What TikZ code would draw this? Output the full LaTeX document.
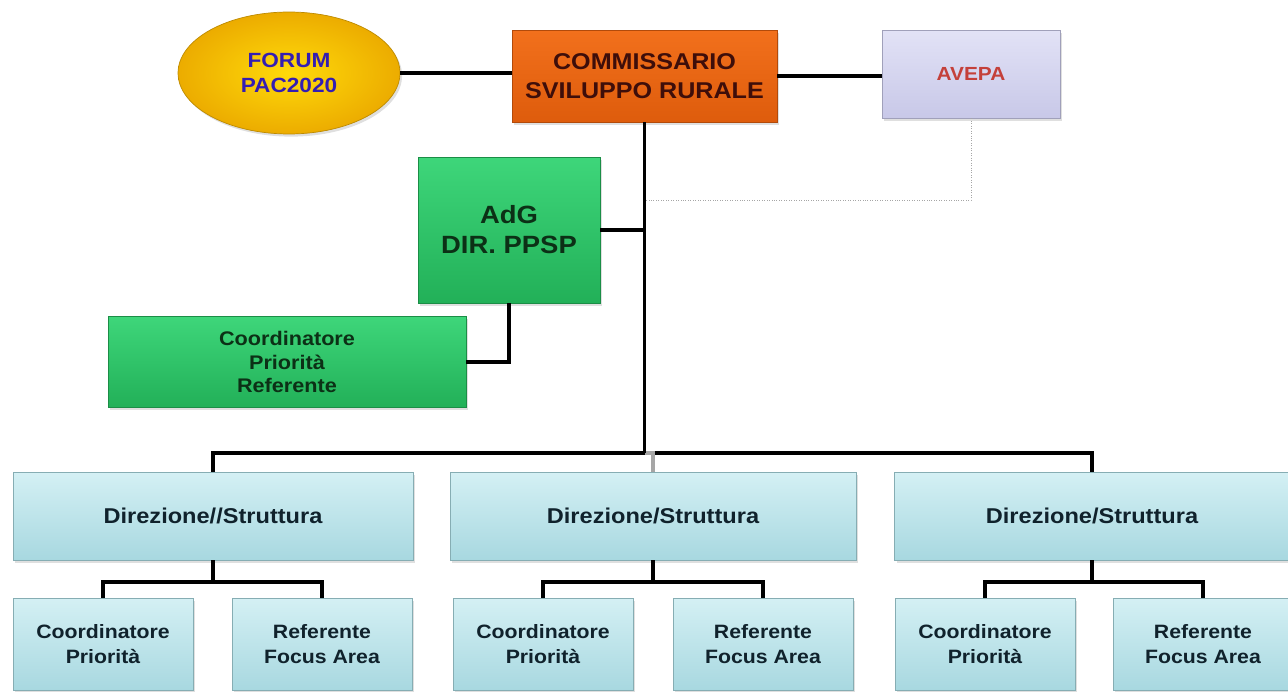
\documentclass[tikz,border=0pt]{standalone}
\usepackage{fontspec}
\setmainfont{Liberation Sans}[FakeStretch=1.1]
\usepackage{tikz}
\usetikzlibrary{calc, positioning, shapes.geometric, shadows}
\usepackage{xcolor}
\definecolor{forumIn}{RGB}{255, 218, 10}
\definecolor{forumOut}{RGB}{236, 172, 0}
\definecolor{forumText}{RGB}{52, 30, 178}
\definecolor{commTop}{RGB}{242, 112, 28}
\definecolor{commBot}{RGB}{222, 92, 12}
\definecolor{commText}{RGB}{62, 14, 10}
\definecolor{avepaTop}{RGB}{226, 226, 246}
\definecolor{avepaBot}{RGB}{200, 200, 232}
\definecolor{avepaText}{RGB}{196, 64, 58}
\definecolor{adgTop}{RGB}{62, 214, 122}
\definecolor{adgBot}{RGB}{34, 176, 88}
\definecolor{adgText}{RGB}{12, 48, 22}
\definecolor{dirTop}{RGB}{212, 240, 244}
\definecolor{dirBot}{RGB}{168, 216, 224}
\definecolor{dirText}{RGB}{16, 34, 44}

\begin{document}
\begin{tikzpicture}[x=0.02cm, y=-0.02cm, font=\bfseries,
  link/.style={line width=2.2pt, black},
  softshadow/.style={drop shadow={opacity=0.25, shadow xshift=1.2pt, shadow yshift=-1.5pt}},
  forumbox/.style={ellipse, draw=forumOut!80!black, inner color=forumIn, outer color=forumOut,
    minimum width=4.44cm, minimum height=2.44cm, align=center, text=forumText,
    softshadow, font=\bfseries\fontsize{11.7}{14}\selectfont},
  commbox/.style={draw=commBot!80!black, top color=commTop, bottom color=commBot,
    minimum width=5.3cm, minimum height=1.84cm, align=center, text=commText,
    softshadow, font=\bfseries\fontsize{13}{16.5}\selectfont},
  avepabox/.style={draw=avepaBot!80!black, top color=avepaTop, bottom color=avepaBot,
    minimum width=3.56cm, minimum height=1.76cm, text=avepaText,
    softshadow, font=\bfseries\fontsize{10.8}{13}\selectfont},
  greenbox/.style={draw=adgBot!80!black, top color=adgTop, bottom color=adgBot,
    align=center, text=adgText, softshadow},
  dirbox/.style={draw=dirBot!80!black, top color=dirTop, bottom color=dirBot,
    align=center, text=dirText, minimum height=1.76cm, softshadow,
    font=\bfseries\fontsize{12.2}{15}\selectfont},
  subbox/.style={dirbox, minimum width=3.6cm, minimum height=1.84cm,
    font=\bfseries\fontsize{11}{14}\selectfont}]
  \useasboundingbox (0,0) rectangle (1288,692);

  % top row
  \node[forumbox] (forum) at (289,73) {FORUM\\PAC2020};
  \node[commbox] (comm) at (644.5,76) {COMMISSARIO\\SVILUPPO RURALE};
  \node[avepabox] (avepa) at (971,74) {AVEPA};

  % managing authority
  \node[greenbox, minimum width=3.64cm, minimum height=2.92cm,
    font=\bfseries\fontsize{14.2}{17}\selectfont] (adg) at (509,230) {AdG\\DIR. PPSP};
  \node[greenbox, minimum width=7.16cm, minimum height=1.82cm,
    font=\bfseries\fontsize{11.2}{13.6}\selectfont] (coordref) at (287,362)
    {Coordinatore\\Priorità\\Referente};

  % structures
  \node[dirbox, minimum width=8cm] (dir1) at (213,516) {Direzione//Struttura};
  \node[dirbox, minimum width=8.12cm] (dir2) at (653,516) {Direzione/Struttura};
  \node[dirbox, minimum width=7.9cm] (dir3) at (1092,516) {Direzione/Struttura};

  \node[subbox] (coord1) at (103,644) {Coordinatore\\Priorità};
  \node[subbox] (ref1) at (322,644) {Referente\\Focus Area};
  \node[subbox] (coord2) at (543,644) {Coordinatore\\Priorità};
  \node[subbox] (ref2) at (763,644) {Referente\\Focus Area};
  \node[subbox] (coord3) at (985,644) {Coordinatore\\Priorità};
  \node[subbox] (ref3) at (1203,644) {Referente\\Focus Area};

  \coordinate (bus) at (comm.south |- 0,453);
  \coordinate (dots) at (comm.south |- 0,200);

  % connectors
  \draw[link] (forum.east) -- (forum.east -| comm.west);
  \draw[link] (comm.east) -- (comm.east -| avepa.west);
  \draw[gray!70, densely dotted, thin] (avepa.south) |- (dots);
  \draw[link] (adg.east) -- (adg.east -| comm.south);
  \draw[link] (adg.south) |- (coordref.east);
  \draw[link] (dir1.north) |- (bus) -| (dir3.north);
  \draw[line width=2.2pt, gray!70] (bus) -- (bus -| dir2.north) -- (dir2.north);
  \draw[link] (comm.south) -- (bus);
  \foreach \i in {1,2,3} {
    \coordinate (split\i) at ($(dir\i.south)+(0,22)$);
    \draw[link] (dir\i.south) -- (split\i);
    \draw[link] (coord\i.north) |- (split\i) -| (ref\i.north);
  }
\end{tikzpicture}
\end{document}
